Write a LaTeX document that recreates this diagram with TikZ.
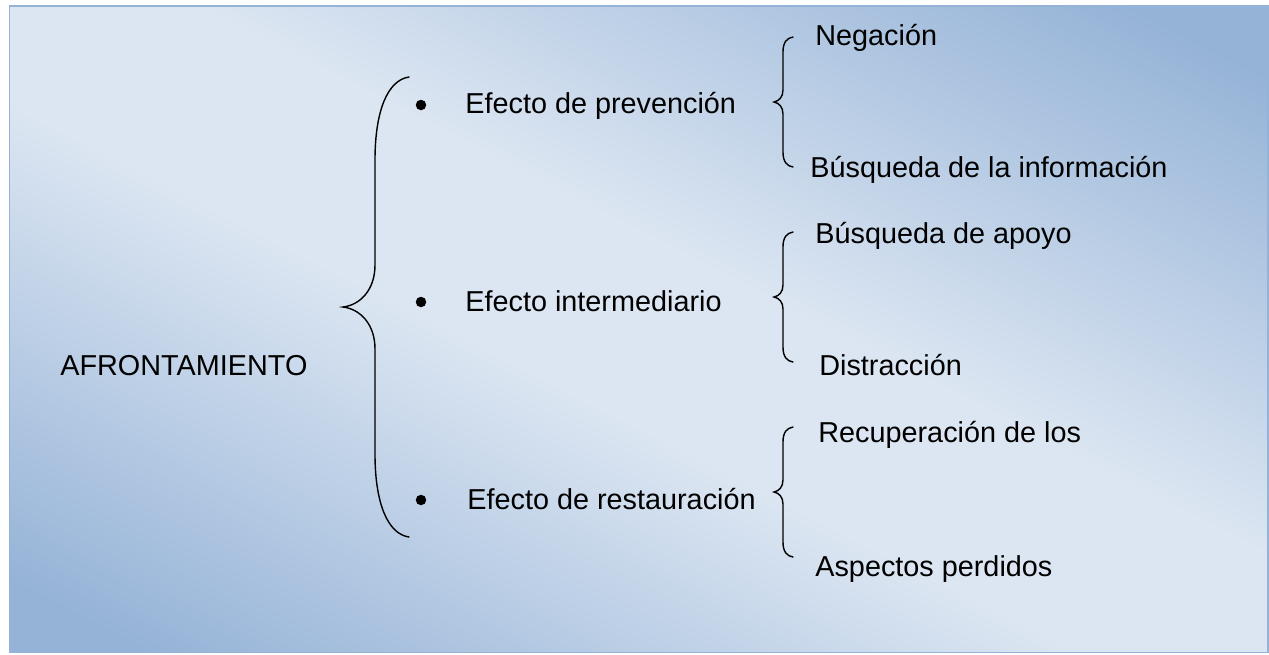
\documentclass[tikz,border=0pt]{standalone}
\usepackage{fontspec}
\setmainfont{Liberation Sans}
\usepackage{xcolor}
\usepackage{tikz}

\definecolor{oscuro}{HTML}{95B3D7}
\definecolor{claro}{HTML}{DCE6F2}
\pgfdeclareverticalshading{fondo}{100bp}{color(0bp)=(oscuro); color(20bp)=(oscuro); color(45bp)=(claro); color(55bp)=(claro); color(80bp)=(oscuro); color(100bp)=(oscuro)}

\begin{document}
\begin{tikzpicture}[x=0.02cm, y=-0.02cm]
\tikzstyle{texto} = [anchor=base west, inner sep=0pt, font=\fontsize{16.4}{20}\selectfont]
\tikzstyle{punto} = [circle, fill=black, inner sep=0pt, minimum size=0.21cm]
\tikzstyle{llave} = [line width=0.8pt, line cap=round]
\tikzstyle{marco} = [draw=oscuro, line width=1.1pt]

% fondo y marco
\useasboundingbox (0,0) rectangle (1269,654);
\shade[shading=fondo, shading angle=-27.2] (9.5,6) rectangle (1268,652.5);
\draw[marco] (9.5,6) rectangle (1268,652.5);

\node (raiz) [texto] at (60,375.5) {AFRONTAMIENTO};

\node (b1) [punto] at (421,105) {};
\node (b2) [punto] at (421,302) {};
\node (b3) [punto] at (421,500) {};

\node (prev) [texto] at (465,113) {Efecto de prevención};
\node (inter) [texto] at (465,311) {Efecto intermediario};
\node (rest) [texto] at (467,509) {Efecto de restauración};

\node (neg) [texto] at (815,45) {Negación};
\node (info) [texto] at (810,177) {Búsqueda de la información};
\node (apoyo) [texto] at (815,243) {Búsqueda de apoyo};
\node (dist) [texto] at (819,375) {Distracción};
\node (recu) [texto] at (818,442) {Recuperación de los};
\node (asp) [texto] at (815,576) {Aspectos perdidos};

% llave grande
\draw[llave] (409,77) .. controls (388,80) and (375,110) .. (375,160) -- (375,265)
  .. controls (375,290) and (360,305) .. (343,307)
  .. controls (360,309) and (375,324) .. (375,349) -- (375,454)
  .. controls (375,504) and (388,534) .. (409,537);

% llaves pequeñas
\foreach \t in {102,297,492}
  \draw[llave] (793,\t-65) .. controls (787,\t-64) and (783,\t-60) .. (783,\t-50) -- (783,\t-12)
    .. controls (783,\t-5) and (779,\t-1) .. (774,\t)
    .. controls (779,\t+1) and (783,\t+5) .. (783,\t+12) -- (783,\t+50)
    .. controls (783,\t+60) and (787,\t+64) .. (793,\t+65);

\end{tikzpicture}
\end{document}
